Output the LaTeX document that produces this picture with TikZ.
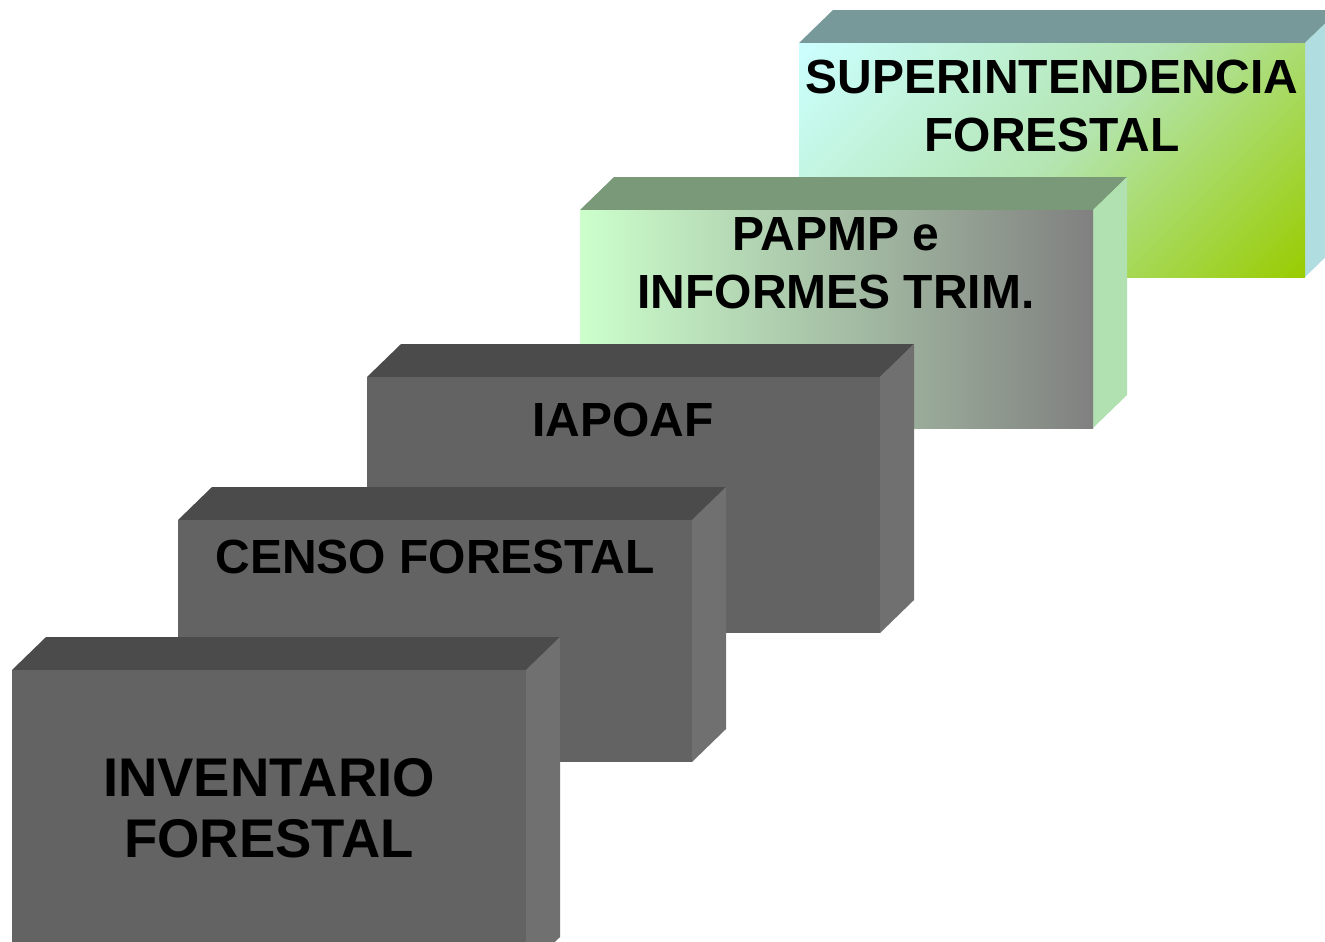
\documentclass[tikz,border=0pt]{standalone}
\usepackage{fontspec}
\setmainfont{Liberation Sans}

\definecolor{grisfrente}{RGB}{99,99,99}
\definecolor{gristapa}{RGB}{75,75,75}
\definecolor{grislado}{RGB}{112,112,112}
\definecolor{menta}{RGB}{204,255,204}
\definecolor{grismedio}{RGB}{128,128,128}
\definecolor{verdetapa}{RGB}{121,153,121}
\definecolor{verdelado}{RGB}{177,224,177}
\definecolor{celeste}{RGB}{204,255,255}
\definecolor{verdepalido}{RGB}{180,229,178}
\definecolor{oliva}{RGB}{153,204,0}
\definecolor{azultapa}{RGB}{119,153,153}
\definecolor{azullado}{RGB}{176,222,224}

% corner to corner shading
\pgfdeclareverticalshading{diagonalcian}{100bp}{color(0bp)=(oliva); color(14.6bp)=(oliva);
	color(50bp)=(verdepalido); color(85.4bp)=(celeste); color(100bp)=(celeste)}

\tikzset{
	pics/caja/.style args={#1:#2:#3}{
		code={
			\fill[#3 tapa] (0,0) -- (34,-33) -- (#1+34,-33) -- (#1,0) -- cycle;
			\fill[#3 lado] (#1,0) -- (#1+34,-33) -- (#1+34,#2-33) -- (#1,#2) -- cycle;
			\fill[#3 cara] (0,0) rectangle (#1,#2);
		}
	},
	gris cara/.style={fill=grisfrente},
	gris tapa/.style={fill=gristapa},
	gris lado/.style={fill=grislado},
	verde cara/.style={left color=menta, right color=grismedio},
	verde tapa/.style={fill=verdetapa},
	verde lado/.style={fill=verdelado},
	cian cara/.style={shade, shading=diagonalcian, shading angle=45},
	cian tapa/.style={fill=azultapa},
	cian lado/.style={fill=azullado},
	rotulo/.style={font=\bfseries\fontsize{27.3}{33}\selectfont, align=center, inner sep=0pt}
}

\begin{document}
\begin{tikzpicture}[x=0.02cm,y=-0.02cm]
	\clip (0,0) rectangle (1325,941);
	%% back to front
	\pic at (799,43) {caja=506:234:cian};
	\node[rotulo] (superintendencia) at (1052,106) {SUPERINTENDENCIA\\FORESTAL};
	\pic at (580,210) {caja=513:218:verde};
	\node[rotulo] (papmp) at (836,263) {PAPMP e\\INFORMES TRIM.};
	\pic at (367,377) {caja=513:256:gris};
	\node[rotulo] (iapoaf) at (623,420) {IAPOAF};
	\pic at (178,520) {caja=514:242:gris};
	\node[rotulo] (censo) at (435,557) {CENSO FORESTAL};
	\pic at (12,670) {caja=514:300:gris};
	\node[rotulo, font=\bfseries\fontsize{31}{35}\selectfont] (inventario) at (269,808) {INVENTARIO\\FORESTAL};
\end{tikzpicture}
\end{document}
